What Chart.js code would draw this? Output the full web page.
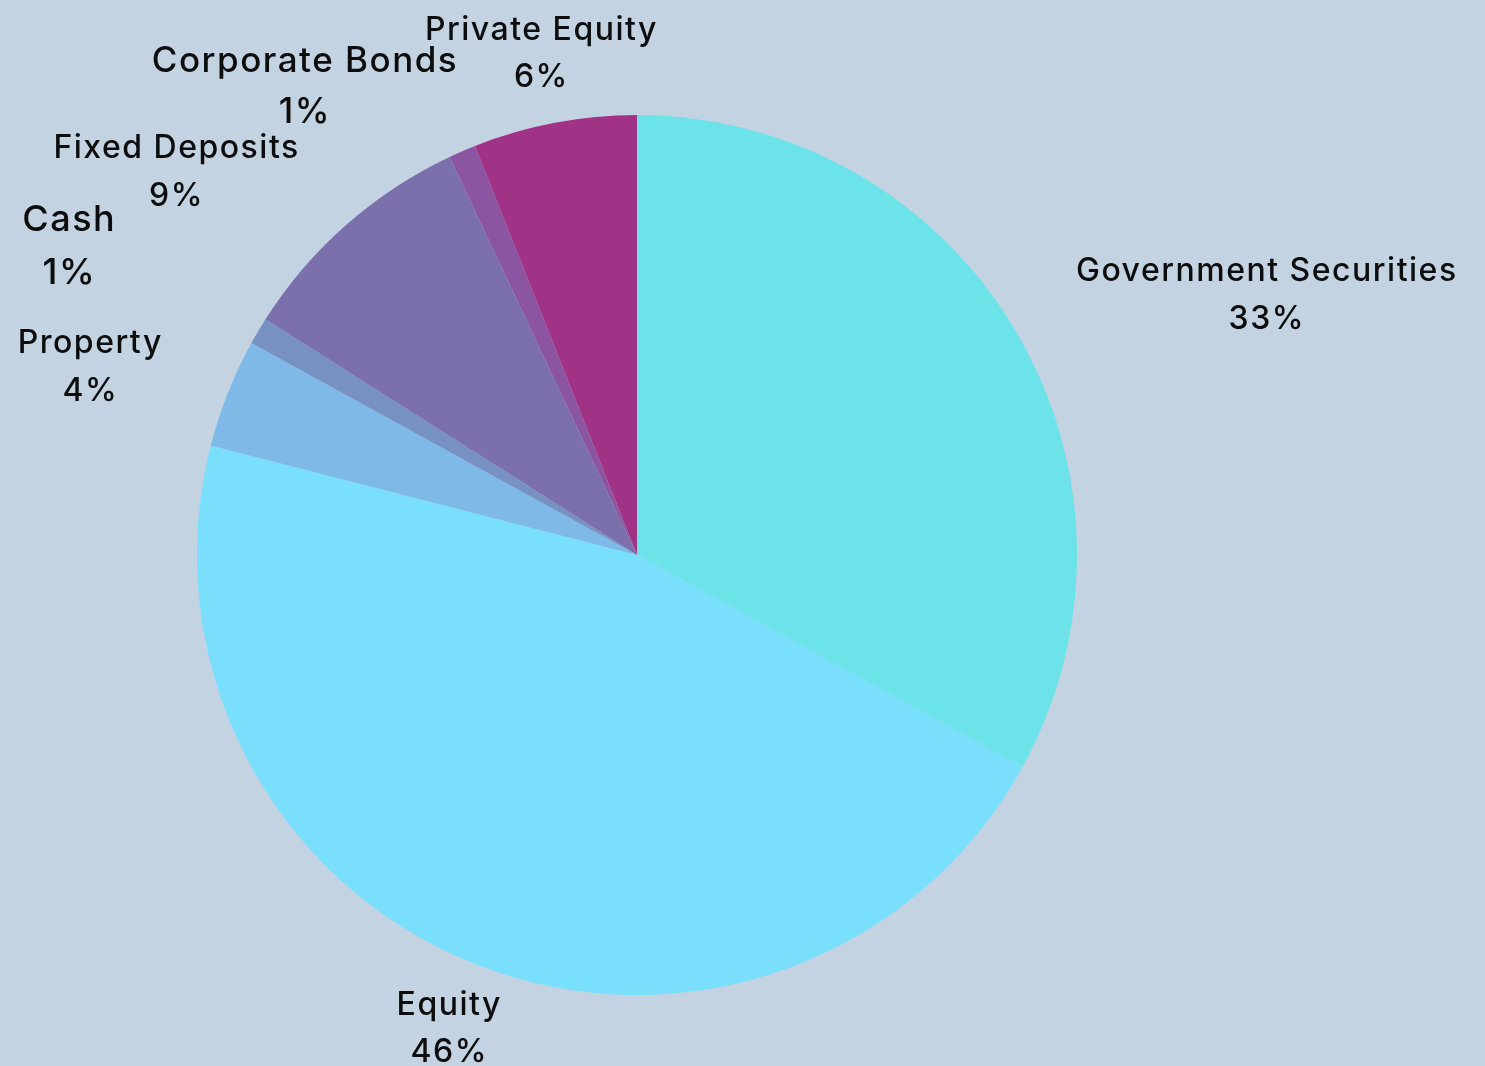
<!DOCTYPE html>
<html>
<head>
<meta charset="utf-8">
<script src="https://cdn.jsdelivr.net/npm/chart.js@4.4.1/dist/chart.umd.min.js"></script>
<style>
    html, body { margin: 0; padding: 0; background: #c3d3e2; }
    #wrap { width: 1485px; height: 1066px; position: relative; }
</style>
</head>
<body>
<div id="wrap"><canvas id="allocationPie"></canvas></div>
<script>
const categories = ['Government Securities', 'Equity', 'Property', 'Cash', 'Fixed Deposits', 'Corporate Bonds', 'Private Equity'];
const shares = [33, 46, 4, 1, 9, 1, 6];
const sliceColors = ['#6be3e8', '#7adffd', '#7eb9e7', '#7891c3', '#7b70ab', '#8b55a1', '#a13387'];

// extra push outward for labels that would sit on top of a neighbour
const labelPush = [0, 0, 0, 95, 0, 0, 0];
// the small-slice labels on the upper left come out a bit larger in the original
const labelFontSize = [32, 32, 32, 36, 32, 35, 32];

const outsideLabels = {
    id: 'outsideLabels',
    afterDatasetsDraw(chart) {
        const ctx = chart.ctx;
        const arcs = chart.getDatasetMeta(0).data;
        const total = shares.reduce((a, b) => a + b, 0);
        ctx.save();
        ctx.fillStyle = '#0d0d0d';
        ctx.textAlign = 'center';
        ctx.textBaseline = 'middle';
        ctx.letterSpacing = '1.5px';
        arcs.forEach((arc, i) => {
            const size = labelFontSize[i];
            ctx.font = '500 ' + size + 'px Inter, "Noto Sans", sans-serif';
            const mid = (arc.startAngle + arc.endAngle) / 2;
            const r = arc.outerRadius + 70 + labelPush[i];
            const cx = arc.x + Math.cos(mid) * r;
            const cy = arc.y + Math.sin(mid) * r;
            const name = categories[i];
            const pct = Math.round(shares[i] / total * 100) + '%';
            const w = Math.max(ctx.measureText(name).width, ctx.measureText(pct).width);
            let x = cx;
            const dx = Math.cos(mid);
            // labels near the top/bottom stay centred, the side ones hang off the anchor
            if (Math.abs(dx) > 0.38) x += Math.sign(dx) * w / 2 * Math.min(1, Math.abs(dx) / 0.47);
            const gap = size * 0.74;
            ctx.fillText(name, x, cy - gap);
            ctx.fillText(pct, x, cy + gap);
        });
        ctx.restore();
    }
};

new Chart(document.getElementById('allocationPie'), {
    type: 'pie',
    data: {
        labels: categories,
        datasets: [{
            data: shares,
            backgroundColor: sliceColors,
            borderWidth: 0
        }]
    },
    options: {
        responsive: true,
        maintainAspectRatio: false,
        animation: false,
        layout: {
            padding: { left: 197, right: 408, top: 115, bottom: 71 }
        },
        plugins: {
            legend: { display: false },
            tooltip: { enabled: false }
        }
    },
    plugins: [outsideLabels]
});
</script>
</body>
</html>
